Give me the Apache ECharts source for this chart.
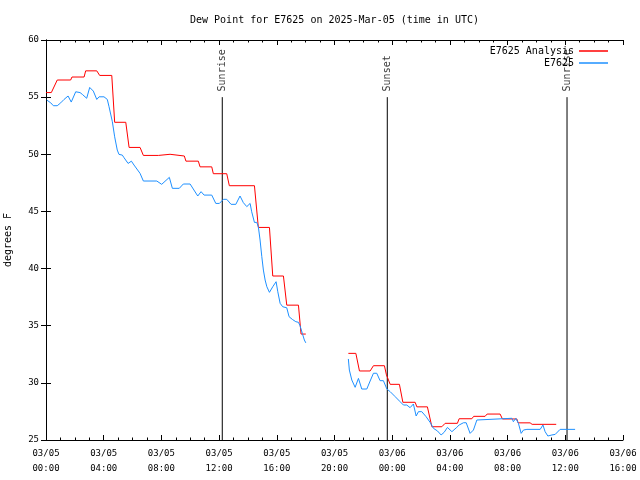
<!DOCTYPE html>
<html>
<head>
<meta charset="utf-8">
<script src="https://cdn.jsdelivr.net/npm/echarts@6/dist/echarts.min.js"></script>
<style>html,body{margin:0;padding:0;background:#fff;}#c{width:640px;height:480px;}</style>
</head>
<body>
<div id="c"></div>
<script>
// ---- data (hours since 2025-03-05 00:00 UTC) ----
const titleText = 'Dew Point for E7625 on 2025-Mar-05 (time in UTC)';
const seriesNames = ['E7625 Analysis', 'E7625'];
const xTickLabels = ['03/05\n00:00','03/05\n04:00','03/05\n08:00','03/05\n12:00','03/05\n16:00','03/05\n20:00',
                     '03/06\n00:00','03/06\n04:00','03/06\n08:00','03/06\n12:00','03/06\n16:00'];

const analysisHours = [0.0,0.37,0.78,1.71,1.8,2.64,2.75,3.52,3.72,4.56,4.76,5.53,5.76,6.52,6.75,7.79,7.87,8.6,8.67,9.59,
  9.7,10.56,10.68,11.49,11.6,12.53,12.71,14.45,14.72,15.49,15.72,16.46,16.69,17.5,17.68,18.01,
  19.5,
  20.96,21.48,21.73,22.47,22.7,23.46,23.6,23.7,23.86,24.5,24.74,25.59,25.71,26.44,26.75,27.44,27.67,28.52,
  28.64,29.52,29.65,30.44,30.58,31.48,31.64,32.64,32.73,33.56,33.7,35.37];
const analysisValues = [55.4,55.4,56.5,56.5,56.76,56.76,57.3,57.3,56.9,56.9,52.8,52.8,50.6,50.6,49.9,49.9,50.0,50.0,49.85,49.85,
  49.4,49.4,48.9,48.9,48.3,48.3,47.25,47.25,43.6,43.6,39.35,39.35,36.8,36.8,34.27,34.27,
  null,
  32.58,32.58,31.04,31.04,31.5,31.5,30.7,30.7,29.87,29.87,28.3,28.3,27.9,27.9,26.16,26.16,26.46,26.46,
  26.86,26.86,27.07,27.07,27.27,27.27,26.84,26.84,26.5,26.5,26.37,26.37];

const obsHours = [0.05,0.33,0.51,0.78,1.02,1.25,1.53,1.6,1.75,2.06,2.36,2.52,2.82,3.03,3.28,3.52,3.68,4.02,4.25,4.37,
  4.6,4.76,4.94,5.06,5.29,5.41,5.69,5.92,6.1,6.52,6.75,7.68,8.02,8.55,8.76,9.24,9.52,9.99,10.52,10.75,
  10.96,11.49,11.77,12.02,12.3,12.53,12.83,13.16,13.45,13.68,13.92,14.15,14.26,14.45,14.61,14.72,14.84,14.96,15.07,15.19,
  15.31,15.49,15.72,15.95,16.07,16.23,16.41,16.69,16.85,17.08,17.32,17.5,17.61,17.77,17.91,18.01,
  19.5,
  20.96,21.03,21.2,21.43,21.66,21.89,22.24,22.47,22.7,22.93,23.16,23.39,23.63,23.86,24.2,24.55,24.78,25.01,25.24,25.47,
  25.66,25.82,26.05,26.35,26.63,26.86,27.14,27.39,27.6,27.83,28.14,28.48,28.64,28.94,29.13,29.4,29.63,29.87,29.96,32.3,
  32.4,32.57,32.75,32.94,33.1,33.34,34.26,34.45,34.6,34.79,35.07,35.3,35.64,36.68];
const obsValues = [54.75,54.5,54.25,54.25,54.5,54.8,55.1,55.2,54.57,55.47,55.4,55.24,54.9,55.85,55.53,54.8,55.03,55.03,54.8,54.16,
  52.85,51.53,50.37,49.99,49.93,49.7,49.2,49.4,49.06,48.33,47.66,47.66,47.37,47.98,47.02,47.02,47.4,47.4,46.35,46.73,
  46.43,46.43,45.7,45.7,46.06,46.06,45.62,45.62,46.35,45.77,45.42,45.7,44.97,44.04,44.04,43.66,42.5,41.04,39.87,39.0,
  38.41,37.92,38.41,38.85,37.97,36.96,36.66,36.57,35.79,35.55,35.35,35.3,35.0,34.33,33.75,33.5,
  null,
  32.09,31.12,30.25,29.61,30.39,29.46,29.46,30.16,30.84,30.84,30.19,30.19,29.46,29.23,28.8,28.35,28.06,28.06,27.83,28.15,
  27.1,27.48,27.48,27.04,26.54,26.02,25.79,25.44,25.67,26.1,25.73,26.11,26.31,26.51,26.51,25.58,25.87,26.75,26.9,26.9,
  26.6,26.9,26.46,25.58,25.87,25.93,25.93,26.31,25.73,25.35,25.44,25.49,25.93,25.93];

const sunHours = [12.22, 23.66, 36.12];
const sunLabels = ['Sunrise', 'Sunset', 'Sunrise'];
const sunLineTop = 55;
const sunLabelBase = 55.5;

// ---- build ----
const FONT = 'DejaVu Sans Mono';
const pairs = (xs, ys) => xs.map((x, i) => [x, ys[i] === null ? '-' : ys[i]]);
const RED = '#ff0000', BLUE = '#1e90ff';

const sunSeries = [];
sunHours.forEach((t, i) => {
  sunSeries.push({
    type: 'line', data: [[t, 25], [t, sunLineTop]], symbol: 'none', silent: true,
    lineStyle: { color: '#000', width: 1 }, z: 1
  });
  sunSeries.push({
    type: 'scatter', data: [[t, sunLabelBase]], symbolSize: 0, silent: true,
    label: { show: true, formatter: sunLabels[i], position: 'inside', rotate: 90,
      align: 'left', verticalAlign: 'middle', fontFamily: FONT, fontSize: 10, color: '#000' }
  });
});

const tickCommon = { show: true, inside: true, length: 5, lineStyle: { color: '#000' } };
const minorCommon = { show: true, splitNumber: 4, length: 2.5, lineStyle: { color: '#000' } };

const option = {
  animation: false,
  backgroundColor: '#fff',
  title: { text: titleText, left: 185, top: 10,
    textStyle: { fontFamily: FONT, fontSize: 10, fontWeight: 'normal', color: '#000' } },
  legend: [
    { data: [seriesNames[0]], right: 27, top: 41, align: 'right', icon: 'rect', itemWidth: 29, itemHeight: 1.5,
      textStyle: { fontFamily: FONT, fontSize: 10, color: '#000' }, selectedMode: false },
    { data: [seriesNames[1]], right: 27, top: 53, align: 'right', icon: 'rect', itemWidth: 29, itemHeight: 1.5,
      textStyle: { fontFamily: FONT, fontSize: 10, color: '#000' }, selectedMode: false }
  ],
  grid: { left: 46, right: 17, top: 40, bottom: 40, outerBoundsMode: 'none', containLabel: false },
  xAxis: [
    { type: 'value', position: 'bottom', min: 0, max: 40, interval: 4,
      axisLine: { show: true, lineStyle: { color: '#000', width: 1 } },
      axisTick: tickCommon, minorTick: minorCommon, splitLine: { show: false },
      axisLabel: { margin: 6, fontFamily: FONT, fontSize: 9, lineHeight: 15, color: '#000',
        formatter: v => (v % 4 === 0 ? xTickLabels[Math.round(v / 4)] : '') } },
    { type: 'value', position: 'top', min: 0, max: 40, interval: 4,
      axisLine: { show: true, lineStyle: { color: '#000', width: 1 } },
      axisTick: tickCommon, minorTick: minorCommon, splitLine: { show: false },
      axisLabel: { show: false } }
  ],
  yAxis: [
    { type: 'value', position: 'left', min: 25, max: 60, interval: 5,
      name: 'degrees F', nameLocation: 'middle', nameGap: 33, nameRotate: 90,
      nameTextStyle: { fontFamily: FONT, fontSize: 10, color: '#000' },
      axisLine: { show: true, lineStyle: { color: '#000', width: 1 } },
      axisTick: tickCommon, splitLine: { show: false },
      axisLabel: { margin: 7, fontFamily: FONT, fontSize: 9, color: '#000' } },
    { type: 'value', position: 'right', min: 25, max: 60, interval: 5,
      axisLine: { show: true, lineStyle: { color: '#000', width: 1 } },
      axisTick: tickCommon, splitLine: { show: false }, axisLabel: { show: false } }
  ],
  series: [
    { name: seriesNames[0], type: 'line', data: pairs(analysisHours, analysisValues), symbol: 'none',
      connectNulls: false, lineStyle: { color: RED, width: 1 }, itemStyle: { color: RED }, z: 3 },
    { name: seriesNames[1], type: 'line', data: pairs(obsHours, obsValues), symbol: 'none',
      connectNulls: false, lineStyle: { color: BLUE, width: 1 }, itemStyle: { color: BLUE }, z: 4 },
    ...sunSeries
  ]
};

const chart = echarts.init(document.getElementById('c'), null, { renderer: 'canvas' });
chart.setOption(option);
</script>
</body>
</html>
